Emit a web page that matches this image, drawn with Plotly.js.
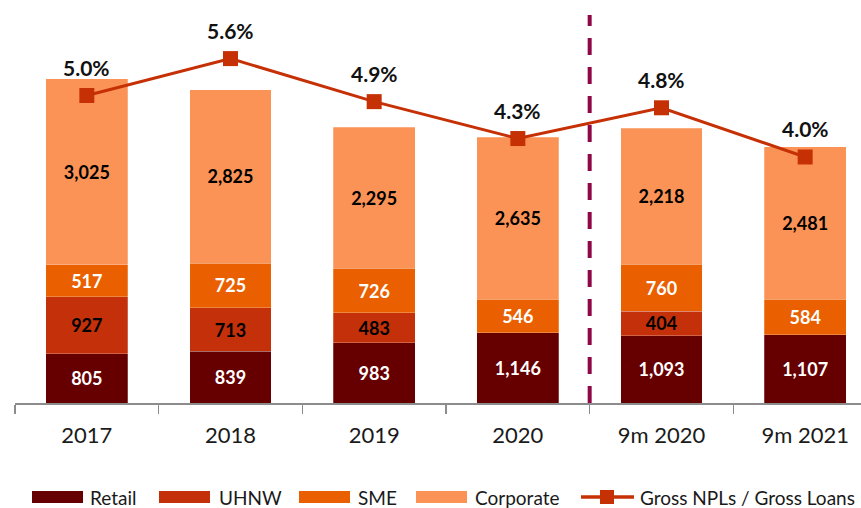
<!DOCTYPE html>
<html>
<head>
<meta charset="utf-8">
<script src="https://cdn.plot.ly/plotly-3.0.1.min.js"></script>
<style>
html,body{margin:0;padding:0;overflow:hidden;background:#fff;width:861px;height:508px;}
#chart{width:880px;height:508px;}
</style>
</head>
<body>
<div id="chart"></div>
<script>
const categories = ["2017", "2018", "2019", "2020", "9m 2020", "9m 2021"];
const retail = [805, 839, 983, 1146, 1093, 1107];
const uhnw = [927, 713, 483, null, 404, null];
const sme = [517, 725, 726, 546, 760, 584];
const corporate = [3025, 2825, 2295, 2635, 2218, 2481];
const nplRatio = [5.0, 5.6, 4.9, 4.3, 4.8, 4.0];
const seriesNames = ["Retail", "UHNW", "SME", "Corporate", "Gross NPLs / Gross Loans"];

const colors = ["#660000", "#C3300A", "#EA6000", "#FC9356"];
const lineColor = "#C63005";

const fmt = v => (v === null ? "" : v.toLocaleString("en-US"));
const labelFont = "Lato, 'Open Sans', sans-serif";

// plot area geometry (pixels)
const M = {l: 15, r: 3, t: 10, b: 105};
const W = 880, H = 508;
const PW = W - M.l - M.r, PH = H - M.t - M.b;
const px2x = p => (p - M.l) / PW;
const py2y = p => (H - M.b - p) / PH;

function barTrace(name, vals, color, textColor) {
  return {
    type: "bar",
    name: name,
    x: categories,
    y: vals,
    text: vals.map(fmt),
    textposition: "inside",
    insidetextanchor: "middle",
    textangle: 0,
    constraintext: "none",
    textfont: {family: labelFont, size: 18, color: textColor, weight: "bold"},
    marker: {color: color, line: {color: "rgba(255,255,255,0.35)", width: 0.7}},
    hoverinfo: "skip",
    showlegend: false
  };
}

const traces = [
  barTrace(seriesNames[0], retail, colors[0], "#ffffff"),
  barTrace(seriesNames[1], uhnw, colors[1], "#000000"),
  barTrace(seriesNames[2], sme, colors[2], "#ffffff"),
  barTrace(seriesNames[3], corporate, colors[3], "#000000"),
  {
    type: "scatter",
    mode: "lines+markers",
    name: seriesNames[4],
    x: categories,
    y: nplRatio,
    yaxis: "y2",
    line: {color: lineColor, width: 3},
    marker: {symbol: "square", size: 15, color: lineColor},
    hoverinfo: "skip",
    showlegend: false
  }
];

const annotations = categories.map((c, i) => ({
  x: i,
  y: nplRatio[i],
  xref: "x",
  yref: "y2",
  text: nplRatio[i].toFixed(1) + "%",
  showarrow: false,
  yshift: 28,
  font: {family: labelFont, size: 21, color: "#111", weight: "bold"}
}));

// custom legend (wide swatches like the original)
const legY = 497;
const swatchL = [32, 159, 299, 416];
const swatchW = 51;
const textL = [88, 217, 356, 473, 638];
const shapes = [{
  type: "line",
  xref: "x",
  yref: "paper",
  x0: 3.5, x1: 3.5,
  y0: 0, y1: 0.987,
  line: {color: "#8F0845", width: 4, dash: "17px,12px"}
}];
swatchL.forEach((l, i) => {
  shapes.push({
    type: "rect", xref: "paper", yref: "paper",
    x0: px2x(l), x1: px2x(l + swatchW),
    y0: py2y(legY + 6), y1: py2y(legY - 6),
    fillcolor: colors[i], line: {width: 0}
  });
});
shapes.push({
  type: "line", xref: "paper", yref: "paper",
  x0: px2x(581), x1: px2x(634), y0: py2y(legY), y1: py2y(legY),
  line: {color: lineColor, width: 3.5}
});
shapes.push({
  type: "rect", xref: "paper", yref: "paper",
  x0: px2x(600), x1: px2x(614), y0: py2y(legY + 7), y1: py2y(legY - 7),
  fillcolor: lineColor, line: {width: 0}
});
seriesNames.forEach((n, i) => {
  annotations.push({
    xref: "paper", yref: "paper",
    x: px2x(textL[i]), y: py2y(legY),
    xanchor: "left", yanchor: "middle",
    text: n, showarrow: false,
    font: {family: labelFont, size: 19, color: "#1a1a1a"}
  });
});

const layout = {
  width: W,
  height: H,
  margin: M,
  paper_bgcolor: "#ffffff",
  plot_bgcolor: "#ffffff",
  barmode: "stack",
  bargap: 0.43,
  font: {family: labelFont, color: "#222"},
  xaxis: {
    type: "category",
    categoryorder: "array",
    categoryarray: categories,
    range: [-0.5, 5.5],
    autorange: false,
    showline: true,
    linecolor: "#8c8c8c",
    linewidth: 1.5,
    ticks: "outside",
    tickson: "boundaries",
    ticklen: 9,
    tickcolor: "#8c8c8c",
    tickwidth: 1.5,
    tickangle: 0,
    ticklabelstandoff: 12,
    tickfont: {family: labelFont, size: 22, color: "#1a1a1a"},
    showgrid: false,
    zeroline: false
  },
  yaxis: {
    range: [0, 6397],
    visible: false,
    showgrid: false,
    zeroline: false
  },
  yaxis2: {
    range: [0, 6.39],
    overlaying: "y",
    side: "right",
    visible: false,
    showgrid: false,
    zeroline: false
  },
  shapes: shapes,
  annotations: annotations,
  showlegend: false
};

Plotly.newPlot("chart", traces, layout, {displayModeBar: false, staticPlot: true});
</script>
</body>
</html>
